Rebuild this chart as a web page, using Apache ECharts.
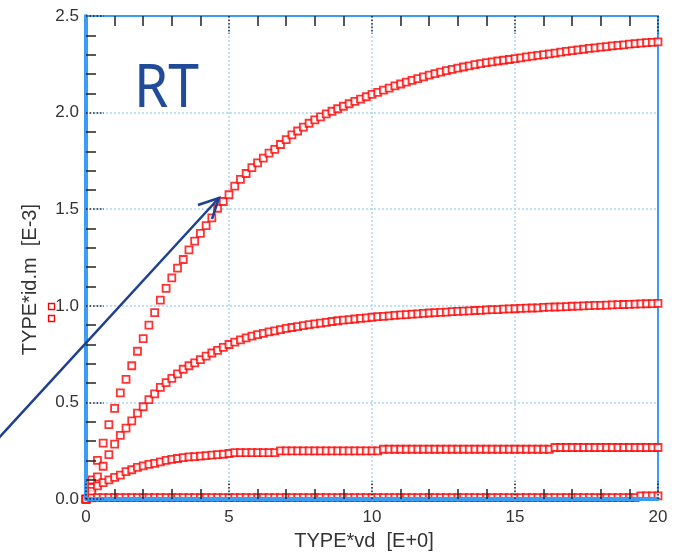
<!DOCTYPE html>
<html>
<head>
<meta charset="utf-8">
<script src="https://cdn.jsdelivr.net/npm/echarts/dist/echarts.min.js"></script>
<style>
  html, body { margin: 0; padding: 0; background: #fff; }
  #chart { width: 676px; height: 556px; }
</style>
</head>
<body>
<div id="chart"></div>
<script>
// Drain voltage sweep (V), 0.2 V steps
const vd = [
  0, 0.2, 0.4, 0.6, 0.8, 1.0, 1.2, 1.4, 1.6, 1.8,
  2.0, 2.2, 2.4, 2.6, 2.8, 3.0, 3.2, 3.4, 3.6, 3.8,
  4.0, 4.2, 4.4, 4.6, 4.8, 5.0, 5.2, 5.4, 5.6, 5.8,
  6.0, 6.2, 6.4, 6.6, 6.8, 7.0, 7.2, 7.4, 7.6, 7.8,
  8.0, 8.2, 8.4, 8.6, 8.8, 9.0, 9.2, 9.4, 9.6, 9.8,
  10.0, 10.2, 10.4, 10.6, 10.8, 11.0, 11.2, 11.4, 11.6, 11.8,
  12.0, 12.2, 12.4, 12.6, 12.8, 13.0, 13.2, 13.4, 13.6, 13.8,
  14.0, 14.2, 14.4, 14.6, 14.8, 15.0, 15.2, 15.4, 15.6, 15.8,
  16.0, 16.2, 16.4, 16.6, 16.8, 17.0, 17.2, 17.4, 17.6, 17.8,
  18.0, 18.2, 18.4, 18.6, 18.8, 19.0, 19.2, 19.4, 19.6, 19.8,
  20.0
];

// Drain current (mA) for the four gate biases, highest first
const idHigh = [
  0, 0.10, 0.20, 0.29, 0.385, 0.47, 0.55, 0.62, 0.69, 0.765,
  0.83, 0.90, 0.965, 1.03, 1.09, 1.145, 1.195, 1.24, 1.29, 1.335,
  1.375, 1.415, 1.455, 1.505, 1.54, 1.575, 1.62, 1.655, 1.685, 1.715,
  1.74, 1.765, 1.79, 1.81, 1.835, 1.86, 1.885, 1.905, 1.925, 1.945,
  1.962, 1.978, 1.993, 2.007, 2.02, 2.033, 2.046, 2.058, 2.07, 2.082,
  2.094, 2.105, 2.116, 2.127, 2.138, 2.148, 2.158, 2.167, 2.176, 2.185,
  2.194, 2.202, 2.21, 2.217, 2.224, 2.23, 2.236, 2.242, 2.248, 2.254,
  2.259, 2.263, 2.267, 2.271, 2.275, 2.279, 2.283, 2.288, 2.292, 2.296,
  2.30, 2.304, 2.308, 2.313, 2.317, 2.321, 2.325, 2.328, 2.332, 2.335,
  2.339, 2.342, 2.345, 2.348, 2.351, 2.354, 2.357, 2.36, 2.362, 2.364,
  2.366
];
const idMid = [
  0, 0.06, 0.115, 0.17, 0.23, 0.285, 0.33, 0.367, 0.405, 0.445,
  0.478, 0.515, 0.545, 0.578, 0.603, 0.625, 0.648, 0.672, 0.69, 0.705,
  0.722, 0.74, 0.756, 0.77, 0.785, 0.80, 0.812, 0.824, 0.834, 0.843,
  0.851, 0.858, 0.865, 0.871, 0.877, 0.883, 0.888, 0.893, 0.898, 0.903,
  0.907, 0.911, 0.915, 0.919, 0.923, 0.926, 0.929, 0.932, 0.935, 0.938,
  0.941, 0.944, 0.946, 0.948, 0.951, 0.953, 0.955, 0.957, 0.959, 0.961,
  0.963, 0.965, 0.966, 0.968, 0.97, 0.971, 0.973, 0.974, 0.976, 0.977,
  0.979, 0.98, 0.981, 0.983, 0.984, 0.985, 0.987, 0.988, 0.989, 0.99,
  0.992, 0.993, 0.994, 0.995, 0.996, 0.998, 0.999, 1.0, 1.001, 1.002,
  1.003, 1.004, 1.005, 1.006, 1.007, 1.008, 1.009, 1.01, 1.011, 1.012,
  1.013
];
const idLow = [
  0, 0.04, 0.068, 0.085, 0.1, 0.112, 0.124, 0.142, 0.152, 0.164,
  0.172, 0.18, 0.185, 0.193, 0.2, 0.206, 0.21, 0.215, 0.218, 0.22,
  0.222, 0.225, 0.228, 0.23, 0.232, 0.236, 0.241, 0.241, 0.241, 0.241,
  0.241, 0.241, 0.241, 0.241, 0.25, 0.25, 0.25, 0.25, 0.25, 0.25,
  0.25, 0.25, 0.25, 0.25, 0.25, 0.25, 0.25, 0.25, 0.25, 0.25,
  0.25, 0.25, 0.258, 0.258, 0.258, 0.258, 0.258, 0.258, 0.258, 0.258,
  0.258, 0.258, 0.258, 0.258, 0.258, 0.258, 0.258, 0.258, 0.258, 0.258,
  0.258, 0.258, 0.258, 0.258, 0.258, 0.258, 0.258, 0.258, 0.258, 0.258,
  0.258, 0.258, 0.267, 0.267, 0.267, 0.267, 0.267, 0.267, 0.267, 0.267,
  0.267, 0.267, 0.267, 0.267, 0.267, 0.267, 0.267, 0.267, 0.267, 0.267,
  0.267
];
const idOff = [
  0, 0.006, 0.008, 0.008, 0.008, 0.008, 0.008, 0.008, 0.008, 0.008,
  0.008, 0.008, 0.008, 0.008, 0.008, 0.008, 0.008, 0.008, 0.008, 0.008,
  0.008, 0.008, 0.008, 0.008, 0.008, 0.008, 0.008, 0.008, 0.008, 0.008,
  0.008, 0.008, 0.008, 0.008, 0.008, 0.008, 0.008, 0.008, 0.008, 0.008,
  0.008, 0.008, 0.008, 0.008, 0.008, 0.008, 0.008, 0.008, 0.008, 0.008,
  0.008, 0.008, 0.008, 0.008, 0.008, 0.008, 0.008, 0.008, 0.008, 0.008,
  0.008, 0.008, 0.008, 0.008, 0.008, 0.008, 0.008, 0.008, 0.008, 0.008,
  0.008, 0.008, 0.008, 0.008, 0.008, 0.008, 0.008, 0.008, 0.008, 0.008,
  0.008, 0.008, 0.008, 0.008, 0.008, 0.008, 0.008, 0.008, 0.008, 0.008,
  0.008, 0.008, 0.008, 0.008, 0.008, 0.008, 0.008, 0.017, 0.017, 0.017,
  0.017
];

const xTitle = 'TYPE*vd  [E+0]';
const yTitle = 'TYPE*id.m  [E-3]';
const tag = 'RT';

const FRAME = '#3a9df5';
const GRIDC = '#a9d8f7';
const TICK = '#222';
const FONT = '"Liberation Sans", Arial, sans-serif';

const pairs = ys => vd.map((v, i) => [v, ys[i]]);

// fresh style objects for every axis
const label = () => ({ color: '#333', fontSize: 17, fontFamily: FONT });
const majorTick = () => ({ show: true, inside: true, length: 18, lineStyle: { color: TICK, width: 1.5, type: [1.5, 2] } });
const minorTick = () => ({ show: true, splitNumber: 5, length: 10, lineStyle: { color: TICK, width: 1.5 } });
// frame lines stay on the plot edges instead of snapping to the zero value
const frameLine = (w) => ({ show: true, onZero: false, lineStyle: { color: FRAME, width: w } });

const series = [idHigh, idMid, idLow, idOff].map((ys, k) => ({
  name: 'id' + k,
  type: 'scatter',
  xAxisIndex: 0,
  yAxisIndex: 0,
  data: pairs(ys),
  symbol: 'rect',
  symbolSize: 7,
  itemStyle: { color: '#ffffff', borderColor: '#ff0000', borderWidth: 1.8 },
  emphasis: { disabled: true },
  z: 2
}));

const chart = echarts.init(document.getElementById('chart'), null, { renderer: 'canvas' });
chart.setOption({
  animation: false,
  backgroundColor: '#ffffff',
  grid: { left: 86, right: 18, top: 16, bottom: 56, containLabel: false },
  xAxis: [
    {
      type: 'value', position: 'bottom', min: 0, max: 20, interval: 5, z: 5,
      axisLine: frameLine(4),
      axisTick: majorTick(), minorTick: minorTick(),
      axisLabel: Object.assign({ margin: 10 }, label()),
      splitLine: { show: false },
      name: xTitle, nameLocation: 'middle', nameGap: 31,
      nameTextStyle: { color: '#333', fontSize: 20, fontFamily: FONT, padding: [0, 16, 0, 0] }
    },
    {
      type: 'value', position: 'top', min: 0, max: 20, interval: 5, z: 0,
      axisLine: frameLine(2),
      axisTick: majorTick(), minorTick: minorTick(),
      axisLabel: { show: false },
      splitLine: { show: true, lineStyle: { color: GRIDC, width: 1.5, type: [2, 2] } }
    }
  ],
  yAxis: [
    {
      type: 'value', position: 'left', min: 0, max: 2.5, interval: 0.5, z: 5,
      axisLine: frameLine(4),
      axisTick: majorTick(), minorTick: minorTick(),
      axisLabel: Object.assign({ margin: 7, formatter: v => v.toFixed(1) }, label()),
      splitLine: { show: false },
      name: yTitle, nameLocation: 'middle', nameGap: 46,
      nameTextStyle: { color: '#333', fontSize: 20, fontFamily: FONT, padding: [0, 44, 0, 0] }
    },
    {
      type: 'value', position: 'right', min: 0, max: 2.5, interval: 0.5, z: 0,
      axisLine: frameLine(2),
      axisTick: { show: false }, minorTick: { show: false },
      axisLabel: { show: false },
      splitLine: { show: true, lineStyle: { color: GRIDC, width: 1.5, type: [2, 2] } }
    }
  ],
  series: series,
  graphic: [
    {
      type: 'text', left: 134, top: 60, z: 10, scaleX: 0.92,
      style: { text: tag, fill: '#1f4b99', font: '60px "Noto Sans", sans-serif' }
    },
    {
      type: 'rect', shape: { x: 48.5, y: 303.5, width: 6, height: 6 }, z: 10,
      style: { fill: '#fff', stroke: '#ff0000', lineWidth: 1.3 }
    },
    {
      type: 'rect', shape: { x: 48.5, y: 315.5, width: 6, height: 6 }, z: 10,
      style: { fill: '#fff', stroke: '#ff0000', lineWidth: 1.3 }
    },
    {
      type: 'polyline', z: 10,
      shape: { points: [[-4, 441], [218, 199]] },
      style: { stroke: '#1f3f8f', lineWidth: 2.5, fill: null }
    },
    {
      type: 'polyline', z: 10,
      shape: { points: [[198, 205], [219, 198], [212, 219]] },
      style: { stroke: '#1f3f8f', lineWidth: 2.5, fill: null, lineJoin: 'miter' }
    }
  ]
});
</script>
</body>
</html>
